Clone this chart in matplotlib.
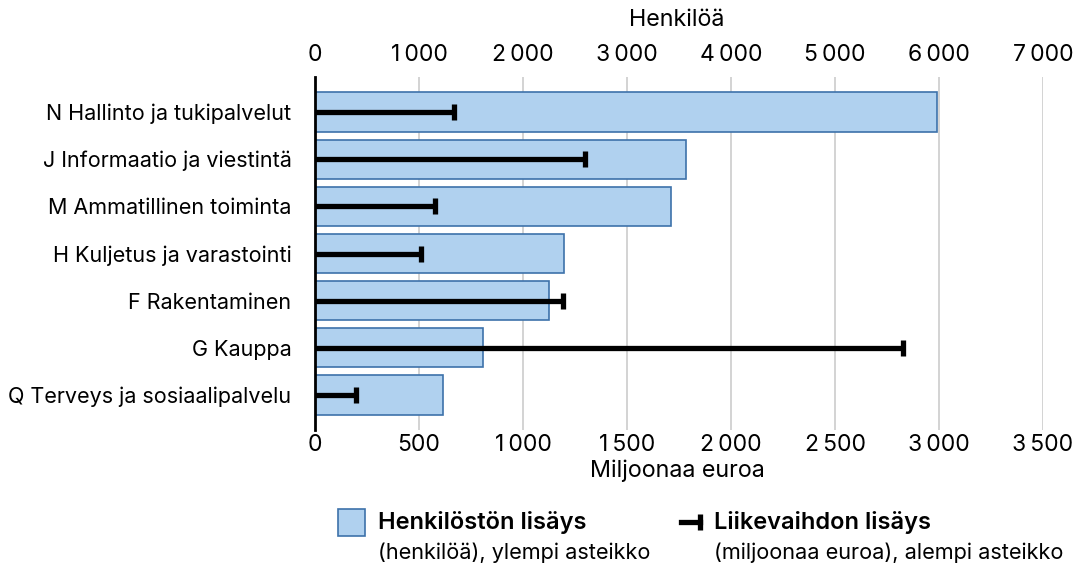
import matplotlib
matplotlib.use("Agg")
import matplotlib.pyplot as plt
import numpy as np
from matplotlib.patches import Rectangle
from matplotlib.lines import Line2D
from matplotlib.ticker import FuncFormatter, MultipleLocator

plt.rcParams['font.family'] = ['Inter', 'DejaVu Sans']

# toimialat
toimialat = ['N Hallinto ja tukipalvelut', 'J Informaatio ja viestintä',
             'M Ammatillinen toiminta', 'H Kuljetus ja varastointi',
             'F Rakentaminen', 'G Kauppa', 'Q Terveys ja sosiaalipalvelu']
# henkilöstön lisäys (henkilöä), ylempi asteikko
henkilosto = [5980, 3570, 3420, 2390, 2250, 1620, 1230]
# liikevaihdon lisäys (miljoonaa euroa), alempi asteikko
liikevaihto = [670, 1300, 575, 512, 1190, 2828, 196]

W, H = 1085, 572
fig = plt.figure(figsize=(W / 100, H / 100), dpi=100)

ax = fig.add_axes([315 / W, 1 - 430 / H, 728 / W, 353 / H])
y = np.arange(len(toimialat))

ax.barh(y, henkilosto, height=0.83, color='#b0d1ef', edgecolor='#3d72aa', linewidth=1.2, zorder=2)
ax.set_xlim(0, 7000)
ax.set_ylim(len(toimialat) - 0.26, -0.74)
ax.set_yticks(y)
ax.set_yticklabels(toimialat, fontsize=15.5)

def tuhannet(v, pos):
    return f"{v:,.0f}".replace(",", "\u2009")

ax2 = ax.twiny()
ax2.hlines(y, 0, liikevaihto, color='black', linewidth=3.8, zorder=3)
ax2.plot(liikevaihto, y, ls='none', marker='|', markersize=12, markeredgewidth=3.8, color='black', zorder=4)
ax2.set_xlim(0, 3500)
ax2.xaxis.set_major_locator(MultipleLocator(500))
ax2.xaxis.set_major_formatter(FuncFormatter(tuhannet))
ax2.xaxis.tick_bottom()
ax2.tick_params(axis='x', length=0, pad=3, labelsize=16.5)
for s in ax2.spines.values():
    s.set_visible(False)

# ylempi asteikko
ax.xaxis.set_major_locator(MultipleLocator(1000))
ax.xaxis.set_major_formatter(FuncFormatter(tuhannet))
ax.xaxis.tick_top()
ax.tick_params(axis='x', length=0, pad=8, labelsize=16.5, labeltop=True, labelbottom=False)
ax.tick_params(axis='y', length=0, pad=17)
ax.grid(axis='x', color='#c8c8c8', linewidth=1.1, zorder=0)
ax.set_axisbelow(True)
for s in ['top', 'right', 'bottom']:
    ax.spines[s].set_visible(False)
ax.spines['left'].set_linewidth(2)
ax.spines['left'].set_zorder(5)

fig.text(677 / W, 1 - 20 / H, 'Henkilöä', ha='center', va='center', fontsize=16.8)
fig.text(677 / W, 1 - 471 / H, 'Miljoonaa euroa', ha='center', va='center', fontsize=16.8)

# selite
fig.patches.append(Rectangle((338 / W, 1 - 536 / H), 27 / W, 27 / H, transform=fig.transFigure,
                             facecolor='#b0d1ef', edgecolor='#3d72aa', linewidth=1.2))
fig.text(378 / W, 1 - 522 / H, 'Henkilöstön lisäys', ha='left', va='center', fontsize=17, fontweight='semibold')
fig.text(378 / W, 1 - 553 / H, '(henkilöä), ylempi asteikko', ha='left', va='center', fontsize=15.6)

fig.lines.append(Line2D([681 / W, 700 / W], [1 - 522 / H, 1 - 522 / H], transform=fig.transFigure,
                        color='black', linewidth=3.8))
fig.lines.append(Line2D([700 / W], [1 - 522 / H], transform=fig.transFigure, color='black',
                        marker='|', markersize=11, markeredgewidth=3.8))
fig.text(714 / W, 1 - 522 / H, 'Liikevaihdon lisäys', ha='left', va='center', fontsize=17, fontweight='semibold')
fig.text(714 / W, 1 - 553 / H, '(miljoonaa euroa), alempi asteikko', ha='left', va='center', fontsize=15.6)

fig.savefig('out.png', dpi=100)
